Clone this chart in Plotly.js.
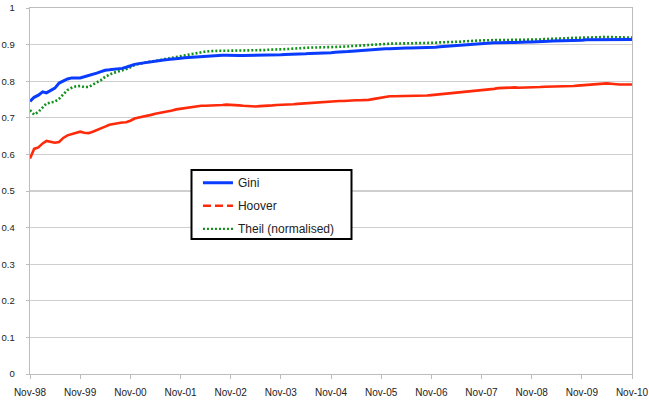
<!DOCTYPE html>
<html>
<head>
<meta charset="utf-8">
<script src="https://cdn.plot.ly/plotly-3.0.1.min.js"></script>
<style>html,body{margin:0;padding:0;background:#fff;}#chart{width:649px;height:403px;}</style>
</head>
<body>
<div id="chart"></div>
<script>
// Monthly observations, Nov-1998 .. Nov-2010 (145 months)
const startYear = 1998, startMonth = 11, nMonths = 145;
const months = [];
for (let i = 0; i < nMonths; i++) {
  const m = startMonth - 1 + i;
  const y = startYear + Math.floor(m / 12);
  const mm = (m % 12) + 1;
  months.push(y + '-' + String(mm).padStart(2, '0') + '-01');
}

const gini = [
0.745,0.756,0.762,0.771,0.768,0.774,0.781,0.795,0.801,0.806,0.809,0.808,
0.809,0.812,0.815,0.818,0.822,0.826,0.830,0.831,0.832,0.834,0.835,0.838,
0.843,0.846,0.848,0.850,0.851,0.853,0.854,0.856,0.858,0.859,0.861,0.862,
0.863,0.864,0.865,0.866,0.867,0.867,0.868,0.869,0.870,0.871,0.871,0.871,
0.870,0.870,0.870,0.870,0.870,0.870,0.871,0.871,0.871,0.872,0.872,0.872,
0.872,0.873,0.873,0.874,0.874,0.875,0.875,0.876,0.876,0.877,0.877,0.878,
0.878,0.879,0.879,0.880,0.881,0.882,0.883,0.884,0.885,0.886,0.887,0.887,
0.888,0.889,0.889,0.890,0.890,0.890,0.891,0.891,0.891,0.892,0.892,0.892,
0.893,0.893,0.894,0.895,0.896,0.897,0.898,0.899,0.900,0.901,0.902,0.903,
0.904,0.904,0.905,0.905,0.905,0.906,0.906,0.906,0.906,0.907,0.907,0.907,
0.907,0.908,0.908,0.909,0.909,0.910,0.910,0.911,0.911,0.911,0.912,0.912,
0.912,0.913,0.913,0.913,0.913,0.914,0.914,0.914,0.914,0.914,0.914,0.914,
0.914];

const hoover = [
0.589,0.615,0.619,0.630,0.637,0.634,0.632,0.634,0.645,0.652,0.656,0.660,
0.662,0.659,0.658,0.662,0.666,0.671,0.676,0.681,0.684,0.685,0.687,0.688,
0.692,0.698,0.701,0.703,0.705,0.708,0.711,0.713,0.714,0.716,0.720,0.723,
0.725,0.726,0.728,0.729,0.731,0.733,0.733,0.733,0.733,0.733,0.735,0.736,
0.736,0.735,0.734,0.733,0.732,0.731,0.731,0.732,0.732,0.733,0.734,0.735,
0.735,0.735,0.736,0.737,0.738,0.739,0.740,0.741,0.742,0.743,0.744,0.744,
0.745,0.745,0.746,0.746,0.747,0.747,0.748,0.748,0.748,0.749,0.751,0.753,
0.755,0.757,0.759,0.759,0.759,0.759,0.759,0.759,0.760,0.760,0.761,0.761,
0.762,0.763,0.764,0.765,0.767,0.768,0.769,0.771,0.772,0.773,0.774,0.775,
0.776,0.777,0.778,0.779,0.781,0.782,0.783,0.783,0.783,0.782,0.782,0.782,
0.783,0.784,0.784,0.785,0.785,0.786,0.786,0.786,0.787,0.787,0.787,0.788,
0.789,0.790,0.792,0.793,0.793,0.794,0.794,0.793,0.791,0.791,0.791,0.791,
0.791];

const theil = [
0.721,0.709,0.716,0.729,0.739,0.742,0.744,0.752,0.765,0.776,0.782,0.786,
0.787,0.784,0.784,0.790,0.796,0.803,0.812,0.818,0.823,0.826,0.829,0.833,
0.838,0.844,0.847,0.850,0.852,0.854,0.855,0.858,0.860,0.862,0.864,0.866,
0.868,0.870,0.873,0.876,0.878,0.880,0.881,0.882,0.883,0.883,0.883,0.883,
0.883,0.883,0.883,0.883,0.884,0.884,0.884,0.885,0.885,0.886,0.886,0.886,
0.887,0.887,0.888,0.889,0.890,0.891,0.892,0.892,0.892,0.893,0.893,0.893,
0.893,0.893,0.894,0.894,0.895,0.896,0.896,0.897,0.898,0.899,0.900,0.901,
0.901,0.902,0.902,0.903,0.903,0.903,0.903,0.903,0.903,0.904,0.904,0.904,
0.905,0.905,0.906,0.906,0.907,0.907,0.908,0.908,0.909,0.910,0.910,0.911,
0.911,0.912,0.912,0.912,0.912,0.912,0.912,0.912,0.912,0.912,0.912,0.913,
0.913,0.914,0.914,0.915,0.915,0.916,0.916,0.917,0.917,0.918,0.918,0.918,
0.919,0.919,0.919,0.920,0.920,0.921,0.921,0.921,0.920,0.920,0.919,0.919,
0.919];

const tickDates = ['1998-11-01','1999-11-01','2000-11-01','2001-11-01','2002-11-01','2003-11-01',
  '2004-11-01','2005-11-01','2006-11-01','2007-11-01','2008-11-01','2009-11-01','2010-11-01'];
const tickLabels = ['Nov-98','Nov-99','Nov-00','Nov-01','Nov-02','Nov-03','Nov-04',
  'Nov-05','Nov-06','Nov-07','Nov-08','Nov-09','Nov-10'];
const yTicks = [0,0.1,0.2,0.3,0.4,0.5,0.6,0.7,0.8,0.9,1];
const yLabels = ['0','0.1','0.2','0.3','0.4','0.5','0.6','0.7','0.8','0.9','1'];

const BLUE = '#0a3cff', RED = '#ff2a0a', GREEN = '#11911a';

const traces = [
  {x: months, y: hoover, type: 'scatter', mode: 'lines', name: 'Hoover', showlegend: false,
   line: {color: RED, width: 2.6}},
  {x: months, y: theil, type: 'scatter', mode: 'lines', name: 'Theil (normalised)', showlegend: false,
   line: {color: GREEN, width: 2.6, dash: '2px,2px'}},
  {x: months, y: gini, type: 'scatter', mode: 'lines', name: 'Gini', legendgroup: 'g1',
   line: {color: BLUE, width: 3}},
  // legend keys (Hoover legend uses dashed style as in the original)
  {x: [null], y: [null], type: 'scatter', mode: 'lines', name: 'Hoover', legendgroup: 'g2',
   line: {color: RED, width: 2.6, dash: '8px,4px'}},
  {x: [null], y: [null], type: 'scatter', mode: 'lines', name: 'Theil (normalised)', legendgroup: 'g3',
   line: {color: GREEN, width: 2.2, dash: '2px,2px'}}
];

const layout = {
  width: 649, height: 403,
  margin: {l: 30, r: 17, t: 8, b: 29, pad: 0},
  paper_bgcolor: '#fff', plot_bgcolor: '#fff',
  font: {family: 'Liberation Sans, Arial, sans-serif', size: 10, color: '#222'},
  showlegend: true,
  xaxis: {
    type: 'date', range: ['1998-11-01', '2010-11-01'],
    tickmode: 'array', tickvals: tickDates, ticktext: tickLabels,
    showgrid: false, zeroline: false,
    showline: true, linecolor: '#bdbdbd', linewidth: 1.3, mirror: true,
    ticks: 'outside', ticklen: 4, tickcolor: '#bdbdbd', tickwidth: 1,
    ticklabelstandoff: 5,
    tickfont: {size: 10, color: '#222'}, fixedrange: true
  },
  yaxis: {
    range: [0, 1], tickmode: 'array', tickvals: yTicks, ticktext: yLabels,
    showgrid: true, gridcolor: '#cfcfcf', gridwidth: 1.3, zeroline: false,
    showline: true, linecolor: '#bdbdbd', linewidth: 1.3, mirror: true,
    ticks: 'outside', ticklen: 3, tickcolor: '#bdbdbd',
    ticklabelstandoff: 9,
    tickfont: {size: 9.5, color: '#222'}, fixedrange: true
  },
  legend: {
    x: 0.279, y: 0.562, xanchor: 'left', yanchor: 'top',
    bgcolor: 'rgba(0,0,0,0)', borderwidth: 0,
    font: {family: 'Liberation Sans, Arial, sans-serif', size: 12, color: '#222'},
    traceorder: 'grouped', tracegroupgap: 4, itemwidth: 30
  },
  shapes: [{
    type: 'rect', xref: 'paper', yref: 'paper', layer: 'above',
    x0: (191.5 - 30) / 602, x1: (351.5 - 30) / 602,
    y0: (374 - 239) / 366, y1: (374 - 170) / 366,
    line: {color: '#000', width: 2}, fillcolor: '#fff'
  }]
};

Plotly.newPlot('chart', traces, layout, {displayModeBar: false, staticPlot: true});
</script>
</body>
</html>
